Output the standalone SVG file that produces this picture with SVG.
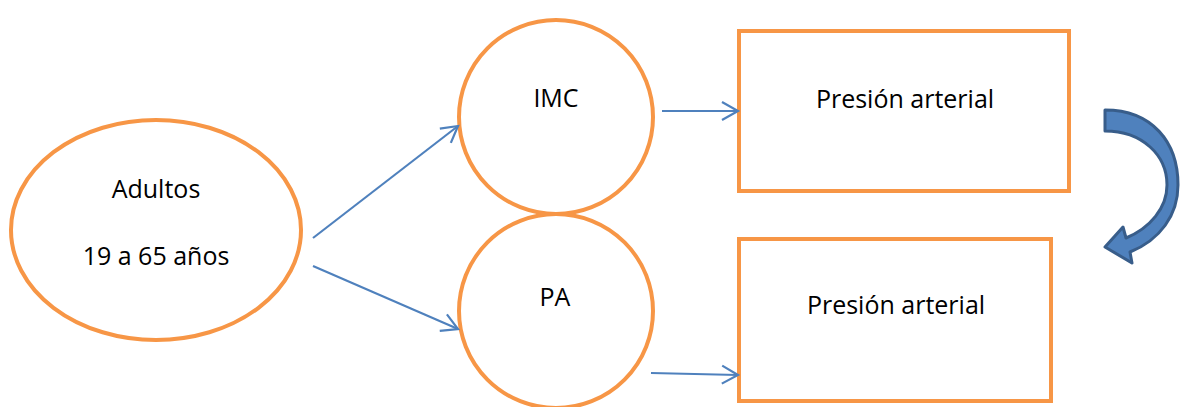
<svg xmlns="http://www.w3.org/2000/svg" width="1183" height="407" viewBox="0 0 1183 407">
<style>
.node{fill:#fff;stroke:#F79646;stroke-width:4}
.lbl{font-family:"Open Sans","Liberation Sans",sans-serif;font-size:25px;fill:#000;text-anchor:middle}
.conn{fill:none;stroke:#4F81BD;stroke-width:2.2}
</style>
<defs>
<marker id="ah" markerUnits="userSpaceOnUse" markerWidth="24" markerHeight="24" viewBox="-20 -12 24 24" refX="0" refY="0" orient="auto">
<path d="M-16,-9 L0,0 L-16,9" fill="none" stroke="#4F81BD" stroke-width="2.2"/>
</marker>
</defs>
<rect width="1183" height="407" fill="#fff"/>
<g id="adultos">
<ellipse class="node" cx="156" cy="230" rx="145" ry="110"/>
<text class="lbl" x="156" y="198">Adultos</text>
<text class="lbl" x="156" y="265">19 a 65 años</text>
</g>
<g id="imc">
<circle class="node" cx="556" cy="117" r="97"/>
<text class="lbl" x="556" y="107">IMC</text>
</g>
<g id="pa">
<circle class="node" cx="556" cy="311" r="97"/>
<text class="lbl" x="555" y="306">PA</text>
</g>
<g id="presion1">
<rect class="node" x="739" y="31" width="330" height="160"/>
<text class="lbl" x="905" y="108">Presión arterial</text>
</g>
<g id="presion2">
<rect class="node" x="739" y="239" width="312" height="162"/>
<text class="lbl" x="896" y="314">Presión arterial</text>
</g>
<g id="connectors">
<line class="conn" x1="313" y1="238" x2="458" y2="126" marker-end="url(#ah)"/>
<line class="conn" x1="313" y1="266" x2="458" y2="329" marker-end="url(#ah)"/>
<line class="conn" x1="662" y1="111" x2="738" y2="111" marker-end="url(#ah)"/>
<line class="conn" x1="651" y1="373" x2="738" y2="375" marker-end="url(#ah)"/>
<path d="M1105,110 C1152,110 1178,142 1178,185 C1178,215 1160,240 1130,252 L1132,263 L1105,247 L1123,227 L1126,238 C1150,228 1167,208 1167,185 C1167,155 1142,131 1105,131 Z" fill="#4F81BD" stroke="#385D8A" stroke-width="3" stroke-linejoin="round"/>
</g>
</svg>
